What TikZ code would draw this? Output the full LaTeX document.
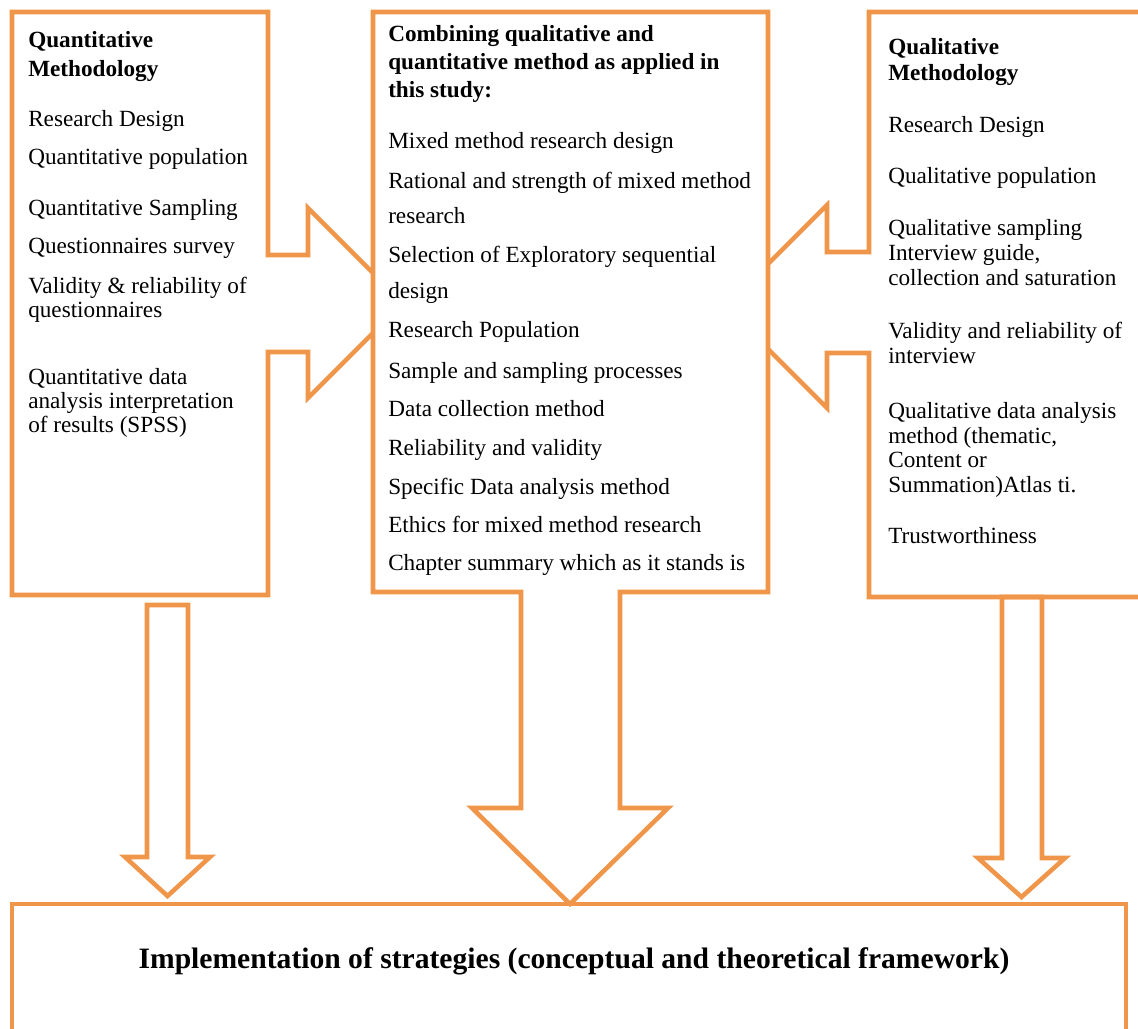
\documentclass[tikz,border=0pt]{standalone}
\usepackage{fontspec}
\setmainfont{Liberation Serif}
\definecolor{accent}{HTML}{F0964A}
\begin{document}
\begin{tikzpicture}[x=0.75pt,y=-0.75pt,
  outline/.style={draw=accent, line width=3.4pt, line join=miter},
  txt/.style={anchor=base west, inner sep=0pt, font=\fontsize{17.4pt}{20pt}\selectfont},
  hd/.style={txt, font=\fontsize{17.4pt}{20pt}\selectfont\bfseries}]
\useasboundingbox (0,0) rectangle (1138,1028);
\clip (0,0) rectangle (1138,1028);

% left panel with its callout arrow pointing right
\draw[outline] (373,273) -- (308,208) -- (308,255) -- (268,255) -- (268,12)
  -- (12,12) -- (12,595) -- (268,595) -- (268,352) -- (308,352) -- (308,398) -- (373,333);
% right panel with its callout arrow pointing left
\draw[outline] (768,264) -- (827,205) -- (827,252) -- (869,252) -- (869,12)
  -- (1150,12) -- (1150,597) -- (869,597) -- (869,353) -- (827,353) -- (827,408) -- (768,349);
% central panel ending in a wide down arrow
\draw[outline] (373,12) -- (768,12) -- (768,592) -- (620,592) -- (620,808) -- (668,808)
  -- (570,904) -- (472,808) -- (521,808) -- (521,592) -- (373,592) -- cycle;
% narrow down arrows
\draw[outline] (147,605) -- (188,605) -- (188,857) -- (210,857) -- (167.5,896)
  -- (125,857) -- (147,857) -- cycle;
\draw[outline] (1002,597) -- (1042,597) -- (1042,858) -- (1065,858) -- (1021.5,897)
  -- (978,858) -- (1002,858) -- cycle;
% result box
\draw[outline] (12,904) rectangle (1126,1045);

% left panel text
\node[hd]  (l1)  at (28,47)  {Quantitative};
\node[hd]  (l2)  at (28,76)  {Methodology};
\node[txt] (l3)  at (28,126) {Research Design};
\node[txt] (l4)  at (28,164) {Quantitative population};
\node[txt] (l5)  at (28,215) {Quantitative Sampling};
\node[txt] (l6)  at (28,253) {Questionnaires survey};
\node[txt] (l7)  at (28,293) {Validity \& reliability of};
\node[txt] (l8)  at (28,317) {questionnaires};
\node[txt] (l9)  at (28,384) {Quantitative data};
\node[txt] (l10) at (28,408) {analysis interpretation};
\node[txt] (l11) at (28,432) {of results (SPSS)};

% central panel text
\node[hd]  (m1)  at (388,41)  {Combining qualitative and};
\node[hd]  (m2)  at (388,69)  {quantitative method as applied in};
\node[hd]  (m3)  at (388,97)  {this study:};
\node[txt] (m4)  at (388,148) {Mixed method research design};
\node[txt] (m5)  at (388,188) {Rational and strength of mixed method};
\node[txt] (m6)  at (388,223) {research};
\node[txt] (m7)  at (388,262) {Selection of Exploratory sequential};
\node[txt] (m8)  at (388,298) {design};
\node[txt] (m9)  at (388,337) {Research Population};
\node[txt] (m10) at (388,378) {Sample and sampling processes};
\node[txt] (m11) at (388,416) {Data collection method};
\node[txt] (m12) at (388,455) {Reliability and validity};
\node[txt] (m13) at (388,494) {Specific Data analysis method};
\node[txt] (m14) at (388,532) {Ethics for mixed method research};
\node[txt] (m15) at (388,570) {Chapter summary which as it stands is};

% right panel text
\node[hd]  (r1)  at (888,54)  {Qualitative};
\node[hd]  (r2)  at (888,80)  {Methodology};
\node[txt] (r3)  at (888,132) {Research Design};
\node[txt] (r4)  at (888,183) {Qualitative population};
\node[txt] (r5)  at (888,235) {Qualitative sampling};
\node[txt] (r6)  at (888,260) {Interview guide,};
\node[txt] (r7)  at (888,285) {collection and saturation};
\node[txt] (r8)  at (888,338) {Validity and reliability of};
\node[txt] (r9)  at (888,363) {interview};
\node[txt] (r10) at (888,418) {Qualitative data analysis};
\node[txt] (r11) at (888,443) {method (thematic,};
\node[txt] (r12) at (888,467) {Content or};
\node[txt] (r13) at (888,492) {Summation)Atlas ti.};
\node[txt] (r14) at (888,543) {Trustworthiness};

% result text
\node[anchor=base, inner sep=0pt, font=\fontsize{22.2pt}{26pt}\selectfont\bfseries]
  (res) at (574,968) {Implementation of strategies (conceptual and theoretical framework)};
\end{tikzpicture}
\end{document}
